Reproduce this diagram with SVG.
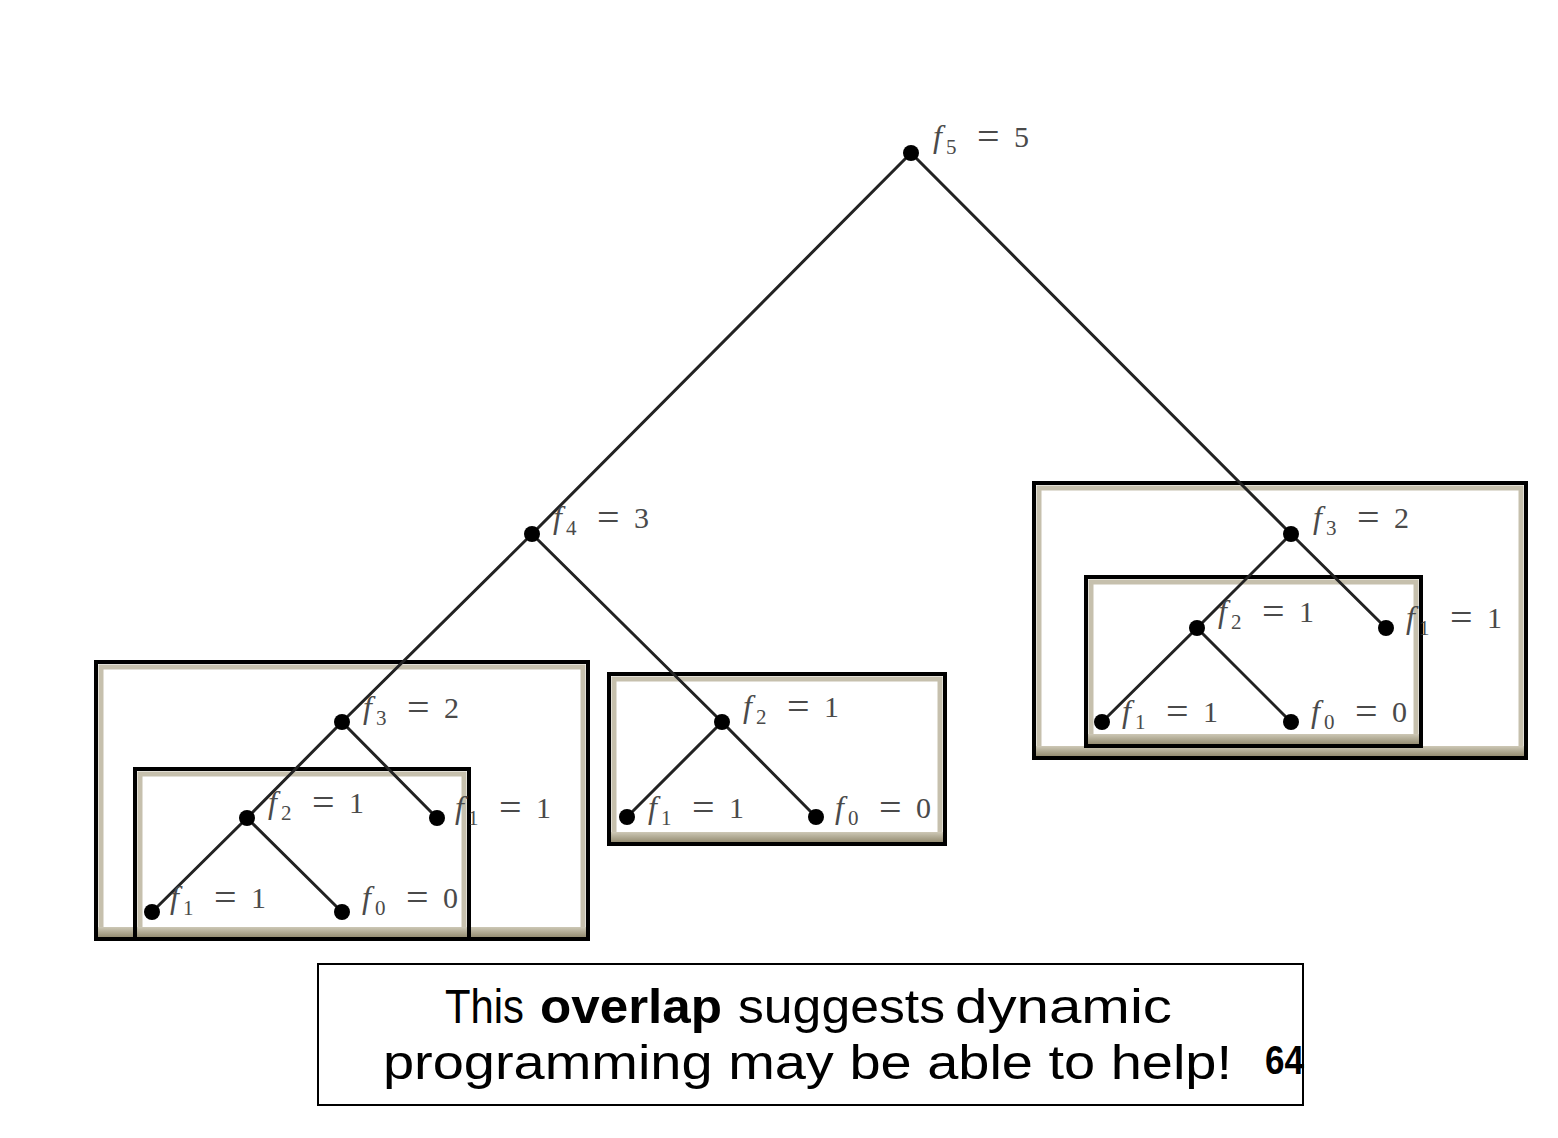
<svg xmlns="http://www.w3.org/2000/svg" width="1558" height="1138" viewBox="0 0 1558 1138">
<style>
.edge{stroke:#222;stroke-width:3;stroke-linecap:round}
.dot{fill:#000}
.bx{fill:none;stroke:#000;stroke-width:4}
.band{fill:none;stroke:#c6c0ad;stroke-width:5}
.lbl{font-family:"Liberation Serif","Times New Roman",serif;font-size:30px;fill:#4a4a4a}
.it{font-style:italic;font-size:32px}
.sb{font-size:21px}
.eq{font-size:40px}
.cap{font-family:"Liberation Sans",Arial,sans-serif;font-size:48px;fill:#000}
</style>
<defs>
<linearGradient id="bot" x1="0" y1="0" x2="0" y2="1">
<stop offset="0" stop-color="#cdc8b6"/>
<stop offset="1" stop-color="#958d72"/>
</linearGradient>
</defs>
<rect width="1558" height="1138" fill="#fff"/>

<g id="boxes">
<g id="box-left-outer">
<rect class="band" x="101" y="667" width="482" height="267"/>
<rect x="98" y="927" width="488" height="10" fill="url(#bot)"/>
<rect class="bx" x="96" y="662" width="492" height="277"/>
</g>
<g id="box-left-inner">
<rect class="band" x="140" y="774" width="324" height="160"/>
<rect x="137" y="927" width="330" height="10" fill="url(#bot)"/>
<rect class="bx" x="135" y="769" width="334" height="170"/>
</g>
<g id="box-middle">
<rect class="band" x="614" y="679" width="326" height="160"/>
<rect x="611" y="832" width="332" height="10" fill="url(#bot)"/>
<rect class="bx" x="609" y="674" width="336" height="170"/>
</g>
<g id="box-right-outer">
<rect class="band" x="1039" y="488" width="482" height="265"/>
<rect x="1036" y="746" width="488" height="10" fill="url(#bot)"/>
<rect class="bx" x="1034" y="483" width="492" height="275"/>
</g>
<g id="box-right-inner">
<rect class="band" x="1091" y="582" width="325" height="159"/>
<rect x="1088" y="734" width="331" height="10" fill="url(#bot)"/>
<rect class="bx" x="1086" y="577" width="335" height="169"/>
</g>
</g>

<g id="connectors">
<line class="edge" x1="911" y1="153" x2="532" y2="534"/>
<line class="edge" x1="911" y1="153" x2="1291" y2="534"/>
<line class="edge" x1="532" y1="534" x2="342" y2="722"/>
<line class="edge" x1="532" y1="534" x2="722" y2="722"/>
<line class="edge" x1="342" y1="722" x2="247" y2="818"/>
<line class="edge" x1="342" y1="722" x2="437" y2="818"/>
<line class="edge" x1="247" y1="818" x2="152" y2="912"/>
<line class="edge" x1="247" y1="818" x2="342" y2="912"/>
<line class="edge" x1="722" y1="722" x2="627" y2="817"/>
<line class="edge" x1="722" y1="722" x2="816" y2="817"/>
<line class="edge" x1="1291" y1="534" x2="1197" y2="628"/>
<line class="edge" x1="1291" y1="534" x2="1386" y2="628"/>
<line class="edge" x1="1197" y1="628" x2="1102" y2="722"/>
<line class="edge" x1="1197" y1="628" x2="1291" y2="722"/>
</g>

<g id="n-f5"><circle class="dot" cx="911" cy="153" r="8"/>
<text class="lbl" y="147"><tspan class="it" x="933">f</tspan><tspan class="sb" x="946" dy="7">5</tspan><tspan class="eq" x="977" dy="-4">=</tspan><tspan x="1014" dy="-3">5</tspan></text></g>
<g id="n-f4"><circle class="dot" cx="532" cy="534" r="8"/>
<text class="lbl" y="528"><tspan class="it" x="553">f</tspan><tspan class="sb" x="566" dy="7">4</tspan><tspan class="eq" x="597" dy="-4">=</tspan><tspan x="634" dy="-3">3</tspan></text></g>
<g id="n-f3-right"><circle class="dot" cx="1291" cy="534" r="8"/>
<text class="lbl" y="528"><tspan class="it" x="1313">f</tspan><tspan class="sb" x="1326" dy="7">3</tspan><tspan class="eq" x="1357" dy="-4">=</tspan><tspan x="1394" dy="-3">2</tspan></text></g>
<g id="n-f3-left"><circle class="dot" cx="342" cy="722" r="8"/>
<text class="lbl" y="718"><tspan class="it" x="363">f</tspan><tspan class="sb" x="376" dy="7">3</tspan><tspan class="eq" x="407" dy="-4">=</tspan><tspan x="444" dy="-3">2</tspan></text></g>
<g id="n-f2-mid"><circle class="dot" cx="722" cy="722" r="8"/>
<text class="lbl" y="717"><tspan class="it" x="743">f</tspan><tspan class="sb" x="756" dy="7">2</tspan><tspan class="eq" x="787" dy="-4">=</tspan><tspan x="824" dy="-3">1</tspan></text></g>
<g id="n-f1-mid"><circle class="dot" cx="627" cy="817" r="8"/>
<text class="lbl" y="818"><tspan class="it" x="648">f</tspan><tspan class="sb" x="661" dy="7">1</tspan><tspan class="eq" x="692" dy="-4">=</tspan><tspan x="729" dy="-3">1</tspan></text></g>
<g id="n-f0-mid"><circle class="dot" cx="816" cy="817" r="8"/>
<text class="lbl" y="818"><tspan class="it" x="835">f</tspan><tspan class="sb" x="848" dy="7">0</tspan><tspan class="eq" x="879" dy="-4">=</tspan><tspan x="916" dy="-3">0</tspan></text></g>
<g id="n-f2-left"><circle class="dot" cx="247" cy="818" r="8"/>
<text class="lbl" y="813"><tspan class="it" x="268">f</tspan><tspan class="sb" x="281" dy="7">2</tspan><tspan class="eq" x="312" dy="-4">=</tspan><tspan x="349" dy="-3">1</tspan></text></g>
<g id="n-f1-left"><circle class="dot" cx="437" cy="818" r="8"/>
<text class="lbl" y="818"><tspan class="it" x="455">f</tspan><tspan class="sb" x="468" dy="7">1</tspan><tspan class="eq" x="499" dy="-4">=</tspan><tspan x="536" dy="-3">1</tspan></text></g>
<g id="n-f1-leftleaf"><circle class="dot" cx="152" cy="912" r="8"/>
<text class="lbl" y="908"><tspan class="it" x="170">f</tspan><tspan class="sb" x="183" dy="7">1</tspan><tspan class="eq" x="214" dy="-4">=</tspan><tspan x="251" dy="-3">1</tspan></text></g>
<g id="n-f0-leftleaf"><circle class="dot" cx="342" cy="912" r="8"/>
<text class="lbl" y="908"><tspan class="it" x="362">f</tspan><tspan class="sb" x="375" dy="7">0</tspan><tspan class="eq" x="406" dy="-4">=</tspan><tspan x="443" dy="-3">0</tspan></text></g>
<g id="n-f2-right"><circle class="dot" cx="1197" cy="628" r="8"/>
<text class="lbl" y="622"><tspan class="it" x="1218">f</tspan><tspan class="sb" x="1231" dy="7">2</tspan><tspan class="eq" x="1262" dy="-4">=</tspan><tspan x="1299" dy="-3">1</tspan></text></g>
<g id="n-f1-right"><circle class="dot" cx="1386" cy="628" r="8"/>
<text class="lbl" y="628"><tspan class="it" x="1406">f</tspan><tspan class="sb" x="1419" dy="7">1</tspan><tspan class="eq" x="1450" dy="-4">=</tspan><tspan x="1487" dy="-3">1</tspan></text></g>
<g id="n-f1-rightleaf"><circle class="dot" cx="1102" cy="722" r="8"/>
<text class="lbl" y="722"><tspan class="it" x="1122">f</tspan><tspan class="sb" x="1135" dy="7">1</tspan><tspan class="eq" x="1166" dy="-4">=</tspan><tspan x="1203" dy="-3">1</tspan></text></g>
<g id="n-f0-rightleaf"><circle class="dot" cx="1291" cy="722" r="8"/>
<text class="lbl" y="722"><tspan class="it" x="1311">f</tspan><tspan class="sb" x="1324" dy="7">0</tspan><tspan class="eq" x="1355" dy="-4">=</tspan><tspan x="1392" dy="-3">0</tspan></text></g>

<g id="caption">
<rect x="318" y="964" width="985" height="141" fill="#fff" stroke="#000" stroke-width="2"/>
<text class="cap" x="445" y="1023" textLength="79" lengthAdjust="spacingAndGlyphs">This</text>
<text class="cap" x="540" y="1023" font-weight="bold" textLength="182" lengthAdjust="spacingAndGlyphs">overlap</text>
<text class="cap" x="738" y="1023" textLength="207" lengthAdjust="spacingAndGlyphs">suggests</text>
<text class="cap" x="955" y="1023" textLength="217" lengthAdjust="spacingAndGlyphs">dynamic</text>
<text class="cap" x="383" y="1079" textLength="849" lengthAdjust="spacingAndGlyphs">programming may be able to help!</text>
<text x="1265" y="1074" font-family="'Liberation Sans',Arial,sans-serif" font-weight="bold" font-size="40" textLength="39" lengthAdjust="spacingAndGlyphs" fill="#000">64</text>
</g>
</svg>
